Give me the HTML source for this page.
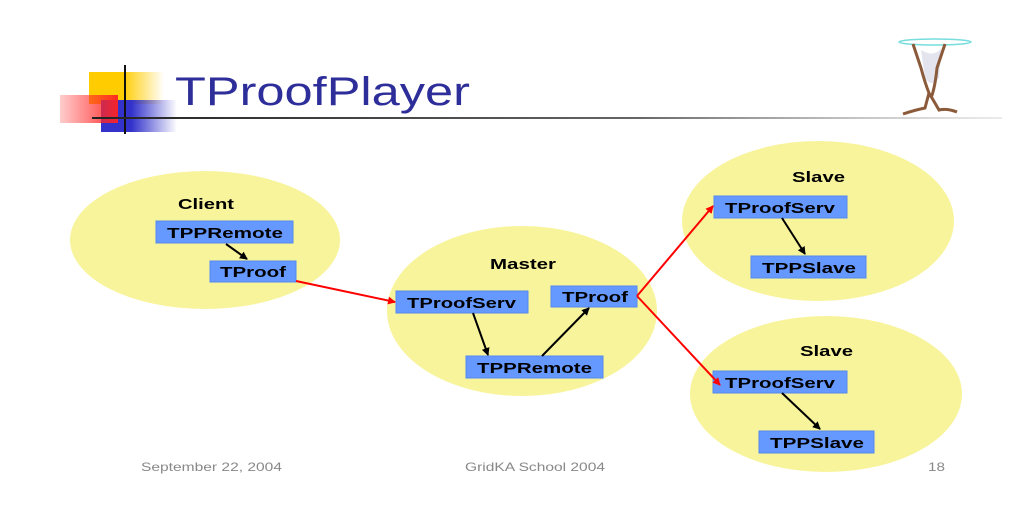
<!DOCTYPE html>
<html><head><meta charset="utf-8"><style>
html,body{margin:0;padding:0;background:#fff;}
svg{display:block;}
text{font-family:"Liberation Sans",Arial,sans-serif;}
</style></head><body>
<svg width="1024" height="512" viewBox="0 0 1024 512" xmlns="http://www.w3.org/2000/svg">
<defs>
<linearGradient id="gy" x1="0" x2="1"><stop offset="0" stop-color="#ffcc00"/><stop offset="0.45" stop-color="#ffcc00"/><stop offset="1" stop-color="#ffcc00" stop-opacity="0"/></linearGradient>
<linearGradient id="gb" x1="0" x2="1"><stop offset="0" stop-color="#3333cc"/><stop offset="0.4" stop-color="#3333cc"/><stop offset="1" stop-color="#3333cc" stop-opacity="0"/></linearGradient>
<linearGradient id="gr" x1="0" x2="1"><stop offset="0" stop-color="#ff3333" stop-opacity="0.25"/><stop offset="1" stop-color="#ff2222" stop-opacity="0.95"/></linearGradient>
<linearGradient id="gl" x1="0" x2="1"><stop offset="0" stop-color="#222"/><stop offset="0.6" stop-color="#666"/><stop offset="1" stop-color="#bbb" stop-opacity="0.3"/></linearGradient>
<marker id="ab" markerWidth="8" markerHeight="8" refX="7" refY="4" orient="auto" markerUnits="userSpaceOnUse"><path d="M0,0 L8,4 L0,8 z" fill="#000"/></marker>
<marker id="ar" markerWidth="8" markerHeight="8" refX="7" refY="4" orient="auto" markerUnits="userSpaceOnUse"><path d="M0,0 L8,4 L0,8 z" fill="#ff0000"/></marker>
</defs>
<rect x="89" y="72" width="75" height="32" fill="url(#gy)"/>
<rect x="101" y="100" width="76" height="32" fill="url(#gb)"/>
<rect x="60" y="95" width="58" height="28" fill="url(#gr)"/>
<line x1="125" y1="65" x2="125" y2="134" stroke="#111" stroke-width="2"/>
<rect x="92" y="117" width="910" height="2" fill="url(#gl)"/>
<text x="175" y="105" font-size="40" fill="#2e2e9a" textLength="295" lengthAdjust="spacingAndGlyphs">TProofPlayer</text>
<g transform="translate(895,38)">
<ellipse cx="40" cy="4" rx="36" ry="3" fill="none" stroke="#7dd" stroke-width="1.5"/>
<path d="M26 12 Q40 20 46 10 L44 40 Q36 50 30 40 z" fill="#e4e4ee"/>
<path d="M18 6 L26 30 Q30 45 34 55 L30 70 Q20 72 8 76 M34 55 Q40 65 44 72 Q52 70 62 74 M36 60 Q40 50 42 30 L50 6" stroke="#8a5a3a" stroke-width="3" fill="none"/>
</g>
<g fill="#f8f49c">
<ellipse cx="205" cy="240" rx="135" ry="69"/>
<ellipse cx="522" cy="311" rx="135" ry="85"/>
<ellipse cx="818" cy="221" rx="136" ry="80"/>
<ellipse cx="826" cy="394" rx="136" ry="78"/>
</g>
<g font-size="15" font-weight="bold" fill="#000" lengthAdjust="spacingAndGlyphs">
<text x="178" y="209" textLength="56" lengthAdjust="spacingAndGlyphs">Client</text>
<text x="490" y="269" textLength="66" lengthAdjust="spacingAndGlyphs">Master</text>
<text x="792" y="182" textLength="53" lengthAdjust="spacingAndGlyphs">Slave</text>
<text x="800" y="356" textLength="53" lengthAdjust="spacingAndGlyphs">Slave</text>
</g>
<g fill="#6699ff" stroke="#5588ee" stroke-width="1">
<rect x="156" y="221" width="137" height="22"/>
<rect x="210" y="261" width="86" height="21"/>
<rect x="396" y="291" width="132" height="22"/>
<rect x="551" y="286" width="86" height="21"/>
<rect x="466" y="356" width="137" height="22"/>
<rect x="714" y="196" width="133" height="22"/>
<rect x="751" y="256" width="115" height="22"/>
<rect x="713" y="371" width="134" height="22"/>
<rect x="759" y="431" width="115" height="22"/>
</g>
<g font-size="15" font-weight="bold" fill="#000">
<text x="167" y="238" textLength="116" lengthAdjust="spacingAndGlyphs">TPPRemote</text>
<text x="220" y="277" textLength="66" lengthAdjust="spacingAndGlyphs">TProof</text>
<text x="407" y="308" textLength="109" lengthAdjust="spacingAndGlyphs">TProofServ</text>
<text x="562" y="302" textLength="66" lengthAdjust="spacingAndGlyphs">TProof</text>
<text x="477" y="373" textLength="115" lengthAdjust="spacingAndGlyphs">TPPRemote</text>
<text x="725" y="213" textLength="110" lengthAdjust="spacingAndGlyphs">TProofServ</text>
<text x="762" y="273" textLength="94" lengthAdjust="spacingAndGlyphs">TPPSlave</text>
<text x="725" y="388" textLength="110" lengthAdjust="spacingAndGlyphs">TProofServ</text>
<text x="770" y="448" textLength="94" lengthAdjust="spacingAndGlyphs">TPPSlave</text>
</g>
<g stroke="#000" stroke-width="2" marker-end="url(#ab)">
<line x1="226" y1="244" x2="247" y2="259"/>
<line x1="473" y1="313" x2="488" y2="355"/>
<line x1="542" y1="356" x2="589" y2="308"/>
<line x1="782" y1="218" x2="805" y2="254"/>
<line x1="782" y1="393" x2="820" y2="429"/>
</g>
<g stroke="#ff0000" stroke-width="2" marker-end="url(#ar)">
<line x1="296" y1="281" x2="395" y2="302"/>
<line x1="637" y1="296" x2="713" y2="206"/>
<line x1="637" y1="296" x2="720" y2="385"/>
</g>
<g font-size="12" fill="#888">
<text x="141" y="471" textLength="141" lengthAdjust="spacingAndGlyphs">September 22, 2004</text>
<text x="465" y="471" textLength="140" lengthAdjust="spacingAndGlyphs">GridKA School 2004</text>
<text x="928" y="471" textLength="17" lengthAdjust="spacingAndGlyphs">18</text>
</g>
</svg>
</body></html>
